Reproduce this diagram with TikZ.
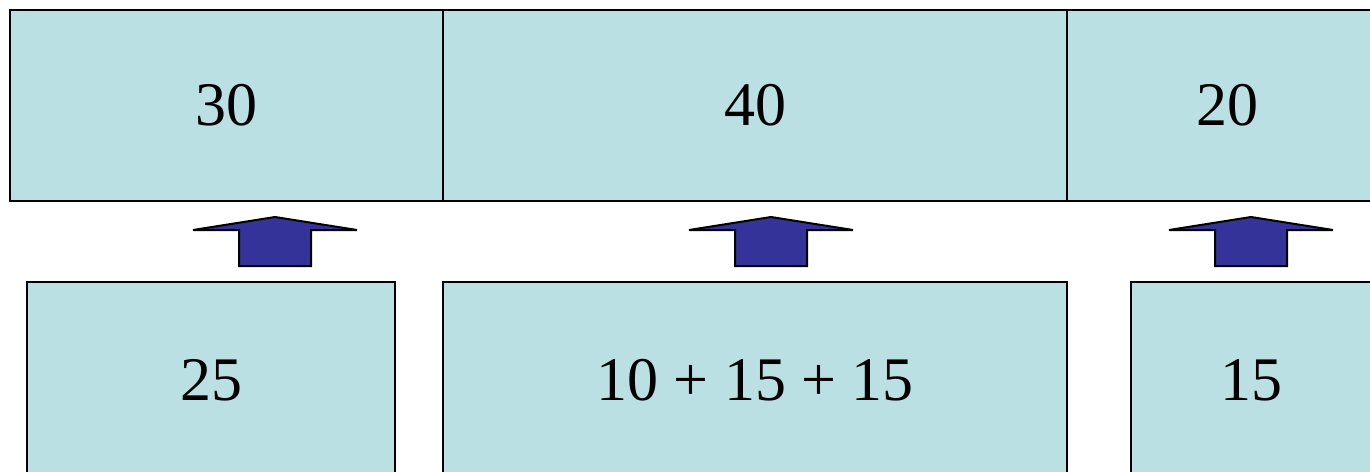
\documentclass[tikz,border=0pt]{standalone}
\usepackage{fontspec}
\setmainfont{Liberation Serif}
\usetikzlibrary{positioning}
\definecolor{cellfill}{RGB}{186,224,227}
\definecolor{arrfill}{RGB}{51,51,153}

\tikzset{
  cell/.style={draw,line width=2.4pt,fill=cellfill,inner sep=0pt,
    font=\fontsize{62}{70}\selectfont},
  uparrow/.pic={
    \filldraw[fill=arrfill,line width=2pt,line join=miter]
      (-36,49) -- (-36,13) -- (-82,13) -- (0,0) -- (82,13) -- (36,13) -- (36,49) -- cycle;
  }
}

\begin{document}
\begin{tikzpicture}[x=1pt,y=-1pt]
    \useasboundingbox (0,0) rectangle (1370,471);
    \clip (0,0) rectangle (1370,471);
    \fill[white] (0,0) rectangle (1370,471);
    % upper row
    \node[cell,minimum width=433pt,minimum height=191pt] (t30) at (226.5,105.5) {30};
    \node[cell,minimum width=624pt,minimum height=191pt] (t40) at (755,105.5) {40};
    \node[cell,minimum width=320pt,minimum height=191pt] (t20) at (1227,105.5) {20};
    % lower row
    \node[cell,minimum width=368pt,minimum height=196pt] (b25) at (211,380) {25};
    \node[cell,minimum width=624pt,minimum height=196pt] (b40) at (755,380) {10 + 15 + 15};
    \node[cell,minimum width=240pt,minimum height=196pt] (b15) at (1251,380) {15};
    % block arrows
    \pic at (275,217) {uparrow};
    \pic at (771,217) {uparrow};
    \pic at (1251,217) {uparrow};
  \end{tikzpicture}
\end{document}
